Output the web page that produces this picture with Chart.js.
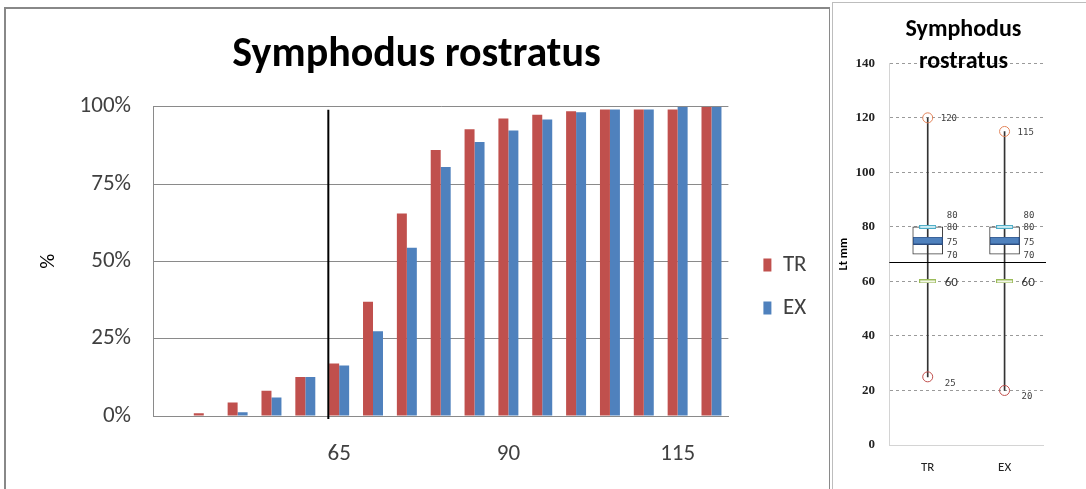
<!DOCTYPE html>
<html><head><meta charset="utf-8">
<script src="https://cdn.jsdelivr.net/npm/chart.js@4.4.0/dist/chart.umd.min.js"></script>
<style>
html,body{margin:0;padding:0;background:#fff;width:1086px;height:489px;overflow:hidden;}
#left{position:absolute;left:4px;top:7px;width:823px;height:492px;border-left:2px solid #888;border-top:2px solid #888;border-right:1px solid #8a8a8a;}
#right{position:absolute;left:832px;top:2px;width:253px;height:492px;border-left:1px solid #bdbdbd;border-top:1px solid #bdbdbd;}
canvas{display:block}
</style></head><body>
<div id="left"><canvas id="c1" width="823" height="480"></canvas></div>
<div id="right"><canvas id="c2" width="253" height="486"></canvas></div>
<script>
// ---------- data: cumulative length frequency (left) ----------
const lengthClasses = ['40','45','50','55','60','65','70','75','80','85','90','95','100','105','110','115','120'];
const shownTickLabels = ['65','90','115'];
const trCumulative = [0, 0.9, 4.4, 8.2, 12.6, 17.0, 36.9, 65.5, 86.0, 92.7, 96.2, 97.4, 98.5, 99.1, 99.1, 99.1, 100];
const exCumulative = [0, 0, 1.2, 6.0, 12.6, 16.3, 27.4, 54.4, 80.5, 88.6, 92.3, 95.9, 98.2, 99.1, 99.1, 100, 100];
const percentTicks = [0, 25, 50, 75, 100];
const cutLineLength = 63.4;   // mm, vertical marker on the bar chart
const classWidth = 5;

// ---------- data: box plot (right) ----------
const boxGroups = ['TR', 'EX'];
const boxMin = [25, 20];
const boxMax = [120, 115];
const boxQ1 = [70, 70];
const boxMedian = [75, 75];
const boxQ3 = [80, 80];
const markUpper = [80, 80];
const markLower = [60, 60];
const refLineLength = 67;     // mm, horizontal marker on the box plot
const ltTicks = [0, 20, 40, 60, 80, 100, 120, 140];

const SANS = 'Carlito, Lato, sans-serif';

// ---------- left chart ----------
const cutLinePlugin = {
  id: 'cutLine',
  afterDatasetsDraw(chart) {
    const {ctx, chartArea, scales: {x}} = chart;
    const idx = (cutLineLength - Number(lengthClasses[0])) / classWidth;
    const px = x.getPixelForValue(idx);
    ctx.save();
    ctx.strokeStyle = '#000';
    ctx.lineWidth = 2;
    ctx.beginPath();
    ctx.moveTo(px, chartArea.top + 3);
    ctx.lineTo(px, chartArea.bottom + 3);
    ctx.stroke();
    ctx.restore();
  }
};

new Chart(document.getElementById('c1'), {
  type: 'bar',
  data: {
    labels: lengthClasses,
    datasets: [
      { label: 'TR', data: trCumulative, backgroundColor: '#C0504D', categoryPercentage: 0.59, barPercentage: 1.0 },
      { label: 'EX', data: exCumulative, backgroundColor: '#4F81BD', categoryPercentage: 0.59, barPercentage: 1.0 }
    ]
  },
  options: {
    responsive: false,
    animation: false,
    layout: { padding: { left: 10.4, right: 12.4, top: 0, bottom: 0 } },
    plugins: {
      title: {
        display: true, text: 'Symphodus rostratus', color: '#000',
        font: { family: SANS, size: 42, weight: 'bold', lineHeight: 1.2 },
        padding: { top: 21.3, bottom: 26.0 }
      },
      legend: {
        position: 'right', align: 'start', maxWidth: 90,
        title: { display: true, text: '', font: { size: 12 }, padding: { top: 210.1, bottom: 0 } },
        labels: { boxWidth: 8, boxHeight: 13, padding: 20, color: '#404040', font: { family: SANS, size: 23 } }
      },
      tooltip: { enabled: false }
    },
    scales: {
      x: {
        grid: { display: false, drawTicks: false },
        border: { display: true, color: '#8a8a8a', width: 1 },
        ticks: {
          autoSkip: false, maxRotation: 0, padding: 24.2, color: '#404040',
          font: { family: SANS, size: 23 },
          callback: (v, i) => shownTickLabels.includes(lengthClasses[i]) ? lengthClasses[i] : ''
        },
        afterFit: s => { s.height = 73; }
      },
      y: {
        min: 0, max: 100,
        afterBuildTicks: s => { s.ticks = percentTicks.map(v => ({ value: v })); },
        grid: { color: '#8a8a8a', lineWidth: 1, drawTicks: false },
        border: { display: true, color: '#8a8a8a', width: 1 },
        ticks: { padding: 22, color: '#404040', font: { family: SANS, size: 23 }, callback: v => v + '%' },
        title: { display: true, text: '%', color: '#000', font: { family: SANS, size: 21 }, padding: { top: 20, bottom: 0 } },
        afterFit: s => { s.width = 136.6; }
      },
      gap: {
        position: 'right', display: true,
        grid: { display: false, drawTicks: false }, border: { display: false }, ticks: { display: false },
        afterFit: s => { s.width = 15; }
      }
    }
  },
  plugins: [cutLinePlugin]
});

// ---------- right chart ----------
function markCanvas(w, h, fill, stroke, lw) {
  const c = document.createElement('canvas');
  c.width = w; c.height = h;
  const g = c.getContext('2d');
  g.fillStyle = fill; g.fillRect(0, 0, w, h);
  g.strokeStyle = stroke; g.lineWidth = lw;
  g.strokeRect(lw / 2, lw / 2, w - lw, h - lw);
  return c;
}
const medianMark = markCanvas(30, 8, '#4F81BD', '#2C4D80', 1);
const upperMark = markCanvas(17, 4, '#CDEBF2', '#4BACC6', 1);
const lowerMark = markCanvas(17, 4, '#F2F6E8', '#9BBB59', 1);

const boxLabelsPlugin = {
  id: 'boxLabels',
  afterDatasetsDraw(chart) {
    const {ctx, chartArea, scales: {x, y}} = chart;
    ctx.save();
    const ry = y.getPixelForValue(refLineLength);
    ctx.strokeStyle = '#000'; ctx.lineWidth = 1;
    ctx.beginPath(); ctx.moveTo(chartArea.left, Math.round(ry) + 0.5); ctx.lineTo(chartArea.right + 3, Math.round(ry) + 0.5); ctx.stroke();
    ctx.textBaseline = 'middle'; ctx.textAlign = 'left';
    boxGroups.forEach((g, i) => {
      const cx = x.getPixelForValue(i);
      ctx.fillStyle = '#404040';
      ctx.font = '9px "DejaVu Sans Mono", monospace';
      ctx.fillText(String(boxMax[i]), cx + 13, y.getPixelForValue(boxMax[i]) + 1);
      ctx.fillText(String(boxMin[i]), cx + 17, y.getPixelForValue(boxMin[i]) + 6.5);
      ctx.fillText(String(markUpper[i]), cx + 19, y.getPixelForValue(markUpper[i]) - 11);
      ctx.fillText(String(boxQ3[i]), cx + 19, y.getPixelForValue(boxQ3[i]) + 1);
      ctx.fillText(String(boxMedian[i]), cx + 19, y.getPixelForValue(boxMedian[i]) + 2);
      ctx.fillText(String(boxQ1[i]), cx + 19, y.getPixelForValue(boxQ1[i]) + 2);
      ctx.font = '13px ' + SANS;
      ctx.fillStyle = '#333';
      ctx.fillText(String(markLower[i]), cx + 17, y.getPixelForValue(markLower[i]) + 1);
    });
    ctx.restore();
  }
};

new Chart(document.getElementById('c2'), {
  type: 'bar',
  data: {
    labels: boxGroups,
    datasets: [
      { type: 'line', label: 'max', data: boxMax, showLine: false, pointStyle: 'circle', pointRadius: 5, pointBorderWidth: 1,
        pointBackgroundColor: 'rgba(0,0,0,0)', pointBorderColor: '#E3845A', order: 0 },
      { type: 'line', label: 'min', data: boxMin, showLine: false, pointStyle: 'circle', pointRadius: 5, pointBorderWidth: 1,
        pointBackgroundColor: 'rgba(0,0,0,0)', pointBorderColor: '#C0504D', order: 0 },
      { type: 'line', label: 'upper', data: markUpper, showLine: false, pointStyle: upperMark, order: 0 },
      { type: 'line', label: 'lower', data: markLower, showLine: false, pointStyle: lowerMark, order: 0 },
      { type: 'line', label: 'median', data: boxMedian, showLine: false, pointStyle: medianMark, order: 1 },
      { type: 'bar', label: 'range', data: boxMin.map((m, i) => [m, boxMax[i]]), backgroundColor: '#333333',
        barThickness: 1, grouped: false, order: 2 },
      { type: 'bar', label: 'box', data: boxQ1.map((q, i) => [q, boxQ3[i]]), backgroundColor: '#ffffff',
        borderColor: '#3a3a3a', borderWidth: 1, borderSkipped: false, barThickness: 30, grouped: false, order: 3 }
    ]
  },
  options: {
    responsive: false,
    animation: false,
    layout: { padding: { left: 8, right: 0, top: 0, bottom: 0 } },
    plugins: {
      legend: { display: false },
      tooltip: { enabled: false },
      title: {
        display: true, text: ['Symphodus', 'rostratus'], color: '#000',
        font: { family: SANS, size: 24, weight: 'bold', lineHeight: 32.4 / 24 },
        padding: { top: 10.6, bottom: -15.1 }
      }
    },
    scales: {
      x: {
        grid: { display: false, drawTicks: false },
        border: { display: true, color: '#d4d4d4', width: 1 },
        ticks: { padding: 15, color: '#222', font: { family: SANS, size: 13 } },
        afterFit: s => { s.height = 44; }
      },
      y: {
        min: 0, max: 140,
        afterBuildTicks: s => { s.ticks = ltTicks.map(v => ({ value: v })); },
        grid: { drawTicks: false, color: c => c.tick && c.tick.value === 0 ? 'rgba(0,0,0,0)' : '#9a9a9a', lineWidth: 1 },
        border: { display: true, color: '#d4d4d4', width: 1, dash: [3, 3] },
        ticks: { padding: 14.3, color: '#222', font: { family: '"Liberation Serif", serif', size: 13, weight: 'bold' } },
        title: { display: true, text: 'Lt mm', color: '#000', font: { family: SANS, size: 12.5, weight: 'bold', lineHeight: 1 }, padding: { top: -3.7, bottom: 0 } },
        afterFit: s => { s.width = 48.3; }
      },
      gap: {
        position: 'right', display: true,
        grid: { display: false, drawTicks: false }, border: { display: false }, ticks: { display: false },
        afterFit: s => { s.width = 43; }
      }
    }
  },
  plugins: [boxLabelsPlugin]
});
</script>
</body></html>
